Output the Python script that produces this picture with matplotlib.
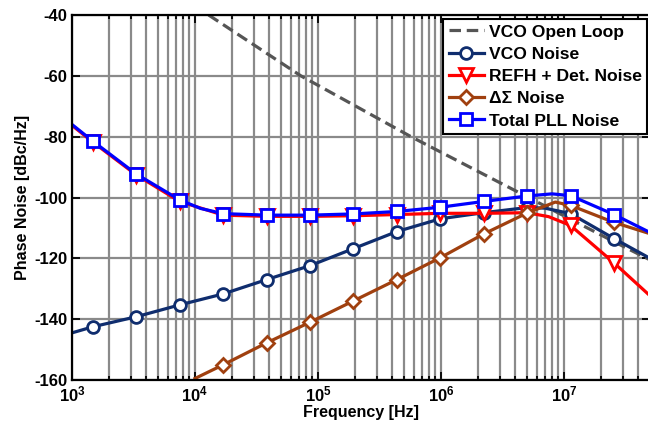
import numpy as np
import matplotlib
matplotlib.use('Agg')
import matplotlib.pyplot as plt
from matplotlib.ticker import LogLocator, FuncFormatter, MultipleLocator

plt.rcParams['font.family'] = ['Liberation Sans', 'DejaVu Sans']
plt.rcParams['font.weight'] = 'bold'
plt.rcParams['axes.unicode_minus'] = False
plt.rcParams['mathtext.fontset'] = 'custom'
plt.rcParams['mathtext.rm'] = 'Liberation Sans:bold'
plt.rcParams['mathtext.bf'] = 'Liberation Sans:bold'
plt.rcParams['mathtext.it'] = 'Liberation Sans:bold'

# frequencies where the markers sit (common to all PLL curves)
f_mark = [1479, 3334, 7516, 16943, 38194, 86099, 194089, 437529,
          986279, 2.22e6, 5.01e6, 1.13e7, 2.55e7]

# VCO open loop (dashed)
f_ol = [1.29e4, 7.25e4, 5.7e5, 5.14e6, 2.54e7, 5e7]
pn_ol = [-40, -60, -80, -100, -114.5, -120.5]

# VCO noise inside the loop
f_vco = [1e3] + f_mark[:11] + [7e6] + f_mark[11:] + [5e7]
pn_vco = [-144.5, -142.5, -139.2, -135.3, -131.7, -127.0, -122.4, -116.8,
          -111.2, -107.0, -105.0, -103.3, -103.5, -105.3, -113.5, -120.0]

# reference + detector noise
f_ref = [1e3] + f_mark[:11] + [7.5e6] + f_mark[11:] + [5e7]
pn_ref = [-76.3, -81.8, -92.6, -101.3, -105.8, -106.2, -106.2, -106.0,
          -105.6, -105.2, -105.2, -105.0, -106.3, -109.2, -121.5, -132.3]

# delta-sigma quantisation noise
f_ds = [1e4] + f_mark[3:11] + [8.5e6] + f_mark[11:] + [5e7]
pn_ds = [-159.5, -155.0, -147.8, -141.0, -134.0, -127.0, -119.8, -112.0,
         -105.1, -101.5, -102.6, -108.2, -111.9]

# total PLL output noise
f_tot = [1e3] + f_mark[:3] + [1.11e4] + f_mark[3:11] + [8e6] + f_mark[11:] + [5e7]
pn_tot = [-76.0, -81.5, -92.3, -100.8, -103.6, -105.3, -105.8, -105.8,
          -105.4, -104.6, -103.2, -101.3, -99.5, -98.8, -99.4, -105.6, -111.5]


def marks(f):
    return [i for i, v in enumerate(f) if v in f_mark]


fig = plt.figure(figsize=(6.48, 4.29), dpi=100)
ax = fig.add_axes([72/648, 49/429, 578/648, 365/429])

lw = 2.3
ax.plot(f_ol, pn_ol, '--', color='#555555', lw=lw, dashes=(3.6, 1.8),
        label='VCO Open Loop')
ax.plot(f_vco, pn_vco, '-o', color='#0f2d6e', lw=lw, ms=8.5, mew=2,
        mfc='white', markevery=marks(f_vco), label='VCO Noise')
ax.plot(f_ref, pn_ref, '-v', color='#ff0000', lw=lw, ms=9.5, mew=2,
        mfc='white', markevery=marks(f_ref), label='REFH + Det. Noise')
ax.plot(f_ds, pn_ds, '-D', color='#a0400f', lw=lw, ms=7.5, mew=2,
        mfc='white', markevery=marks(f_ds), label='ΔΣ Noise')
ax.plot(f_tot, pn_tot, '-s', color='#0000ff', lw=lw, ms=8.5, mew=2,
        mfc='white', markevery=marks(f_tot), label='Total PLL Noise')

ax.set_xscale('log')
ax.set_xlim(1e3, 5e7)
ax.set_ylim(-160, -40)
ax.yaxis.set_major_locator(MultipleLocator(20))
ax.xaxis.set_major_locator(LogLocator(base=10, numticks=10))
ax.xaxis.set_minor_locator(LogLocator(base=10, subs=np.arange(2, 10), numticks=20))
ax.xaxis.set_major_formatter(FuncFormatter(lambda v, p: r'$10^{%d}$' % round(np.log10(v))))

ax.grid(True, which='both', axis='x', color='#8a8a8a', lw=1.6)
ax.grid(True, which='major', axis='y', color='#8a8a8a', lw=1.6)
ax.set_axisbelow(True)
ax.tick_params(which='both', direction='in', top=True, right=True,
               labelsize=12, width=1.3, color='black')
ax.tick_params(which='major', length=6)
ax.tick_params(which='minor', length=3)
for s in ax.spines.values():
    s.set_linewidth(1.6)

ax.set_xlabel('Frequency [Hz]', fontsize=11.5, fontweight='bold', labelpad=0)
ax.set_ylabel('Phase Noise [dBc/Hz]', fontsize=11.5, fontweight='bold', labelpad=3)

leg = ax.legend(loc='upper right', bbox_to_anchor=(0.995, 0.989),
                fontsize=12.6, fancybox=False,
                framealpha=1, edgecolor='black', handlelength=2.0,
                handletextpad=0.3, borderpad=0.3, labelspacing=0.4,
                borderaxespad=0)
leg.get_frame().set_linewidth(1.5)
leg.set_zorder(10)

fig.savefig('out.png', dpi=100)
